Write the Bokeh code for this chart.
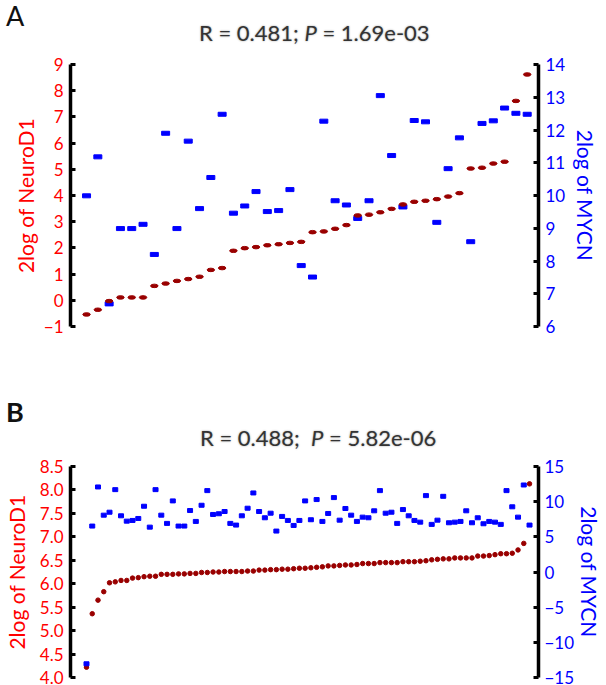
from bokeh.plotting import figure
from bokeh.models import Range1d, LinearAxis, FixedTicker, PrintfTickFormatter, Div
from bokeh.layouts import column
from bokeh.embed import file_html
from bokeh.resources import INLINE

FONT = "Lato"
RED = "#FF0000"
BLUE = "#0000FF"
DARKRED = "#990000"

# ---------------- Panel A data ----------------
neurod1_A = [-0.54, -0.36, -0.03, 0.11, 0.11, 0.11, 0.55, 0.64, 0.74, 0.81,
             0.90, 1.16, 1.23, 1.89, 1.99, 2.03, 2.10, 2.14, 2.19, 2.23,
             2.60, 2.63, 2.73, 2.87, 3.24, 3.27, 3.36, 3.49, 3.66, 3.76,
             3.80, 3.86, 3.96, 4.09, 5.03, 5.06, 5.22, 5.29, 7.61, 8.62]
mycn_A = [9.99, 11.18, 6.69, 8.99, 8.99, 9.12, 8.20, 11.90, 8.99, 11.66,
          9.60, 10.55, 12.48, 9.46, 9.68, 10.12, 9.51, 9.54, 10.18, 7.86,
          7.51, 12.27, 9.84, 9.71, 9.30, 9.84, 13.05, 11.22, 9.65, 12.29,
          12.25, 9.18, 10.82, 11.76, 8.59, 12.20, 12.28, 12.67, 12.51, 12.48]
sample_A = list(range(1, len(neurod1_A) + 1))
left_ticks_A = [-1, 0, 1, 2, 3, 4, 5, 6, 7, 8, 9]
right_ticks_A = [6, 7, 8, 9, 10, 11, 12, 13, 14]

# ---------------- Panel B data ----------------
neurod1_B = [4.22, 5.36, 5.65, 5.83, 6.02, 6.04, 6.07, 6.07, 6.12, 6.13,
             6.15, 6.16, 6.16, 6.20, 6.20, 6.20, 6.21, 6.21, 6.22, 6.22,
             6.24, 6.24, 6.25, 6.25, 6.26, 6.26, 6.26, 6.26, 6.27, 6.27,
             6.29, 6.29, 6.30, 6.30, 6.31, 6.31, 6.32, 6.33, 6.33, 6.34,
             6.35, 6.36, 6.38, 6.38, 6.39, 6.40, 6.40, 6.41, 6.43, 6.43,
             6.43, 6.45, 6.45, 6.45, 6.45, 6.47, 6.47, 6.47, 6.48, 6.49,
             6.51, 6.52, 6.53, 6.53, 6.55, 6.55, 6.55, 6.55, 6.59, 6.59,
             6.60, 6.62, 6.64, 6.64, 6.65, 6.72, 6.86, 8.13]
mycn_B = [-13.05, 6.53, 12.09, 8.08, 8.50, 11.71, 7.99, 7.23, 7.33, 7.61,
          9.35, 6.38, 11.71, 8.08, 6.91, 10.11, 6.53, 6.53, 8.74, 7.19,
          9.49, 11.57, 8.18, 8.28, 8.60, 6.91, 6.67, 7.99, 9.07, 11.24,
          8.60, 7.71, 8.36, 5.82, 7.90, 7.33, 6.62, 7.33, 10.11, 7.43,
          10.30, 7.19, 8.32, 10.58, 7.37, 9.03, 8.08, 7.19, 7.80, 7.71,
          8.70, 11.57, 8.36, 8.50, 6.91, 8.88, 7.99, 7.33, 7.09, 10.86,
          6.77, 7.37, 10.76, 7.00, 7.09, 7.19, 8.70, 7.00, 7.71, 6.86,
          7.19, 7.09, 6.77, 11.57, 9.27, 7.80, 12.37, 6.67]
sample_B = list(range(1, len(neurod1_B) + 1))
left_ticks_B = [4.0, 4.5, 5.0, 5.5, 6.0, 6.5, 7.0, 7.5, 8.0, 8.5]
right_ticks_B = [-15, -10, -5, 0, 5, 10, 15]

title_A = ("R = 0.481;", "P", "= 1.69e-03")
title_B = ("R = 0.488;&nbsp;", "P", "= 5.82e-06")


def style_axis(ax, color, ticks, fmt=None, tick_standoff=7, label_standoff=3):
    ax.ticker = FixedTicker(ticks=ticks)
    if fmt:
        ax.formatter = PrintfTickFormatter(format=fmt)
    ax.axis_line_color = "black"
    ax.axis_line_width = 3.5
    ax.major_tick_line_color = "black"
    ax.major_tick_line_width = 3
    ax.major_tick_in = 5
    ax.major_tick_out = 0
    ax.minor_tick_line_color = None
    ax.major_label_text_color = color
    ax.major_label_text_font = FONT
    ax.major_label_text_font_size = "17px"
    ax.major_label_standoff = tick_standoff
    ax.axis_label_text_color = color
    ax.axis_label_text_font = FONT
    ax.axis_label_text_font_size = "21px"
    ax.axis_label_text_font_style = "normal"
    ax.axis_label_standoff = label_standoff


def header(parts, letter, letter_weight, h, letter_top, title_left, title_top):
    html = (
        f'<div style="position:relative;width:606px;height:{h}px;font-family:Lato;">'
        f'<span style="position:absolute;left:6px;top:{letter_top}px;font-size:27px;'
        f'line-height:27px;color:#111;font-weight:{letter_weight};">{letter}</span>'
        f'<span style="position:absolute;left:{title_left}px;top:{title_top}px;font-size:22px;'
        f'line-height:22px;color:#333;white-space:nowrap;text-shadow:0 0 2px #999;">'
        f'{parts[0]} <i>{parts[1]}</i> {parts[2]}</span></div>'
    )
    return Div(text=html, width=606, height=h, margin=0)


def make_panel(height, xr, yl, yr, border_top, border_bottom):
    p = figure(width=606, height=height, x_range=xr, y_range=yl,
               output_backend="svg", toolbar_location=None,
               x_axis_location=None, y_axis_location="left",
               min_border_left=70, min_border_right=68,
               min_border_top=border_top, min_border_bottom=border_bottom,
               margin=0)
    p.grid.visible = False
    p.outline_line_color = None
    p.background_fill_color = "white"
    p.border_fill_color = "white"
    p.extra_y_ranges = {"mycn": yr}
    return p


# ---------------- Panel A ----------------
pA = make_panel(336, Range1d(-0.42, 41.0), Range1d(-1, 9), Range1d(6, 14), 10, 64)
style_axis(pA.yaxis[0], RED, left_ticks_A)
pA.yaxis[0].axis_label = "2log of NeuroD1"
axA = LinearAxis(y_range_name="mycn", axis_label="2log of MYCN")
style_axis(axA, BLUE, right_ticks_A, tick_standoff=7, label_standoff=5)
pA.add_layout(axA, "right")

pA.rect(sample_A, mycn_A, width=8, height=4, width_units="screen", height_units="screen",
        color=BLUE, y_range_name="mycn")
pA.ellipse(sample_A, neurod1_A, width=7.5, height=3.5, width_units="screen",
           height_units="screen", color=DARKRED)

# ---------------- Panel B ----------------
pB = make_panel(233, Range1d(-1.78, 79.56), Range1d(4.0, 8.5), Range1d(-15, 15), 14, 8)
style_axis(pB.yaxis[0], RED, left_ticks_B, "%.1f", label_standoff=8)
pB.yaxis[0].axis_label = "2log of NeuroD1"
axB = LinearAxis(y_range_name="mycn", axis_label="2log of MYCN")
style_axis(axB, BLUE, right_ticks_B, tick_standoff=6, label_standoff=0)
pB.add_layout(axB, "right")

pB.scatter(sample_B, neurod1_B, marker="circle", size=4.5, color=DARKRED)
pB.rect(sample_B, mycn_B, width=5, height=4, width_units="screen", height_units="screen",
        color=BLUE, y_range_name="mycn")

hA = header(title_A, "A", "normal", 54, 2, 199, 22)
hB = header(title_B, "B", "bold", 62, 8, 200, 37)

layout = column(hA, pA, hB, pB, spacing=0)
open("out.html", "w").write(file_html(layout, INLINE))
